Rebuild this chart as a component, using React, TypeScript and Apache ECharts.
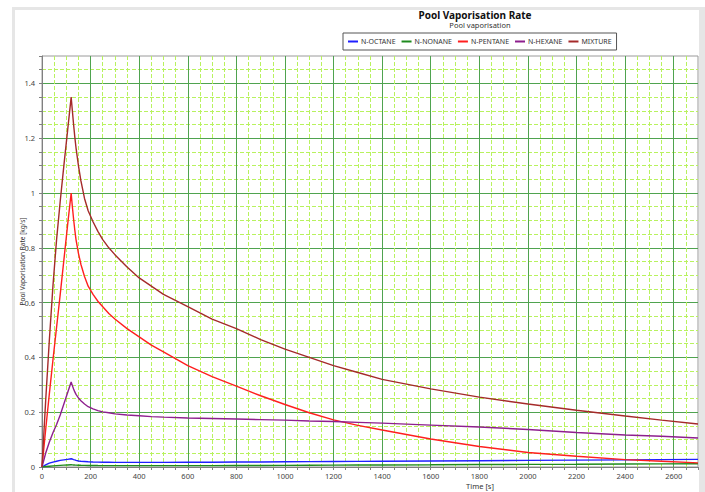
import React, { useEffect, useRef } from "react";
import * as echarts from "echarts";

const times = [0, 15, 30, 45, 60, 75, 90, 105, 120, 125, 130, 135, 140, 150, 160, 175, 190, 210, 230, 250, 275, 300, 350, 400, 450, 500, 600, 700, 800, 900, 1000, 1100, 1200, 1300, 1400, 1600, 1800, 2000, 2200, 2400, 2550, 2700];
const octane = [0, 0.008, 0.014, 0.018, 0.021, 0.024, 0.026, 0.028, 0.03, 0.029, 0.027, 0.026, 0.024, 0.022, 0.021, 0.02, 0.019, 0.018, 0.0178, 0.0175, 0.0173, 0.017, 0.017, 0.017, 0.017, 0.017, 0.0172, 0.0175, 0.018, 0.0185, 0.019, 0.0195, 0.02, 0.0205, 0.021, 0.022, 0.023, 0.024, 0.025, 0.026, 0.027, 0.028];
const nonane = [0, 0.002, 0.003, 0.004, 0.005, 0.006, 0.007, 0.0075, 0.008, 0.0078, 0.0075, 0.0072, 0.007, 0.0066, 0.0063, 0.006, 0.0057, 0.0055, 0.0053, 0.0052, 0.0051, 0.005, 0.005, 0.005, 0.005, 0.005, 0.005, 0.0052, 0.0055, 0.0057, 0.006, 0.0065, 0.007, 0.0072, 0.0075, 0.008, 0.009, 0.0095, 0.01, 0.011, 0.0115, 0.012];
const pentane = [0, 0.135, 0.265, 0.39, 0.51, 0.63, 0.755, 0.88, 1.0, 0.95, 0.905, 0.865, 0.83, 0.78, 0.74, 0.695, 0.66, 0.63, 0.605, 0.585, 0.56, 0.54, 0.505, 0.475, 0.445, 0.42, 0.37, 0.33, 0.295, 0.26, 0.228, 0.198, 0.172, 0.152, 0.135, 0.102, 0.075, 0.053, 0.039, 0.027, 0.021, 0.015];
const hexane = [0, 0.05, 0.09, 0.125, 0.155, 0.19, 0.23, 0.27, 0.31, 0.297, 0.285, 0.274, 0.265, 0.252, 0.242, 0.23, 0.22, 0.212, 0.206, 0.201, 0.198, 0.194, 0.19, 0.187, 0.184, 0.182, 0.179, 0.177, 0.175, 0.173, 0.171, 0.168, 0.166, 0.163, 0.16, 0.153, 0.146, 0.137, 0.126, 0.117, 0.112, 0.106];
const mixture = [0, 0.24, 0.46, 0.66, 0.83, 0.97, 1.1, 1.225, 1.35, 1.3, 1.25, 1.205, 1.165, 1.1, 1.045, 0.98, 0.935, 0.895, 0.86, 0.83, 0.8, 0.775, 0.73, 0.69, 0.66, 0.63, 0.585, 0.54, 0.505, 0.465, 0.43, 0.4, 0.37, 0.345, 0.32, 0.285, 0.255, 0.23, 0.207, 0.186, 0.171, 0.157];

const seriesNames = ["N-OCTANE", "N-NONANE", "N-PENTANE", "N-HEXANE", "MIXTURE"];
const seriesColors = ["#1f1fff", "#1f8a1f", "#ff1f1f", "#8e1f8e", "#a52a2a"];
const seriesValues = [octane, nonane, pentane, hexane, mixture];

const titleText = "Pool Vaporisation Rate";
const subtitleText = "Pool vaporisation";
const xName = "Time [s]";
const yName = "Pool Vaporisation Rate [kg/s]";

const FONT = '"Noto Sans", "Open Sans", sans-serif';
const MAJOR = "#4fa34f";
const MINOR = "#b8f25e";
const AXISC = "#808080";

export default function App() {
  const ref = useRef<HTMLDivElement>(null);
  useEffect(() => {
    if (!ref.current) return;
    const chart = echarts.init(ref.current, null, { renderer: "svg" });
    const fmt = (v: number) => String(v);
    const option: any = {
      animation: false,
      backgroundColor: "#ffffff",
      grid: { left: 42, top: 56, right: 7, bottom: 25, show: true, borderColor: "#9a9a9a", borderWidth: 1, backgroundColor: "transparent" },
      legend: {
        data: seriesNames,
        left: 343,
        top: 33,
        padding: [5, 5],
        itemGap: 6,
        itemWidth: 10,
        itemHeight: 2,
        icon: "rect",
        borderColor: "#555",
        borderWidth: 1,
        textStyle: { fontSize: 7, fontFamily: FONT, color: "#333", padding: [0, 0, 0, -2] },
      },
      xAxis: [
        {
          type: "value",
          min: 0,
          max: 2700,
          interval: 200,
          axisLine: { show: true, lineStyle: { color: AXISC } },
          axisTick: { show: false },
          axisLabel: { fontSize: 7.5, lineHeight: 8, fontFamily: FONT, color: "#444", margin: 5, showMaxLabel: false, formatter: fmt },
          splitLine: { show: true, showMaxLine: false, lineStyle: { color: MAJOR, width: 1 } },
        },
        {
          type: "value",
          min: 0,
          max: 2700,
          interval: 50,
          position: "bottom",
          axisLine: { show: false },
          axisTick: { show: true, length: 3, lineStyle: { color: AXISC } },
          axisLabel: { show: false },
          splitLine: { show: true, showMaxLine: false, lineStyle: { color: ["rgba(0,0,0,0)", MINOR, MINOR, MINOR], width: 1, type: [4, 2] } },
        },
      ],
      yAxis: [
        {
          type: "value",
          min: 0,
          max: 1.5,
          interval: 0.2,
          name: yName,
          nameLocation: "middle",
          nameGap: 16,
          nameMoveOverlap: false,
          nameTextStyle: { fontSize: 6.5, fontFamily: FONT, color: "#333" },
          axisLine: { show: true, lineStyle: { color: AXISC } },
          axisTick: { show: false },
          axisLabel: { fontSize: 7.5, fontFamily: FONT, color: "#444", margin: 7, showMaxLabel: false, formatter: fmt },
          splitLine: { show: true, showMaxLine: false, lineStyle: { color: MAJOR, width: 1 } },
        },
        {
          type: "value",
          min: 0,
          max: 1.5,
          interval: 0.05,
          position: "left",
          axisLine: { show: false },
          axisTick: { show: true, length: 3, lineStyle: { color: AXISC } },
          axisLabel: { show: false },
          splitLine: { show: true, showMaxLine: false, lineStyle: { color: ["rgba(0,0,0,0)", MINOR, MINOR, MINOR], width: 1, type: [4, 2] } },
        },
      ],
      series: seriesNames.map((name, k) => ({
        name,
        type: "line",
        xAxisIndex: 0,
        yAxisIndex: 0,
        showSymbol: false,
        symbol: "none",
        color: seriesColors[k],
        lineStyle: { width: 1.4, color: seriesColors[k] },
        data: times.map((t, i) => [t, seriesValues[k][i]]),
        z: 3,
      })),
      graphic: [
        { type: "rect", z: 100, shape: { x: 12, y: 7, width: 3, height: 485 }, style: { fill: "#e6e6e6" } },
        { type: "rect", z: 100, shape: { x: 12, y: 7, width: 693, height: 3 }, style: { fill: "#e6e6e6" } },
        { type: "rect", z: 100, shape: { x: 699, y: 7, width: 6, height: 485 }, style: { fill: "#e6e6e6" } },
        { type: "text", z: 100, x: 475, y: 9, style: { text: titleText, fill: "#111", fontSize: 10, lineHeight: 11, fontWeight: "bold", fontFamily: FONT, textAlign: "center", textVerticalAlign: "top" } },
        { type: "text", z: 100, x: 480, y: 21, style: { text: subtitleText, fill: "#333", fontSize: 7.5, lineHeight: 8, fontFamily: FONT, textAlign: "center", textVerticalAlign: "top" } },
        { type: "text", z: 100, x: 480, y: 481.5, style: { text: xName, fill: "#333", fontSize: 7.5, lineHeight: 8, fontFamily: FONT, textAlign: "center", textVerticalAlign: "top" } },
      ],
    };
    chart.setOption(option);
    return () => chart.dispose();
  }, []);
  return (
    <div
      ref={ref}
      style={{ position: "absolute", left: 0, top: 0, width: 705, height: 492, background: "#fff" }}
    />
  );
}
